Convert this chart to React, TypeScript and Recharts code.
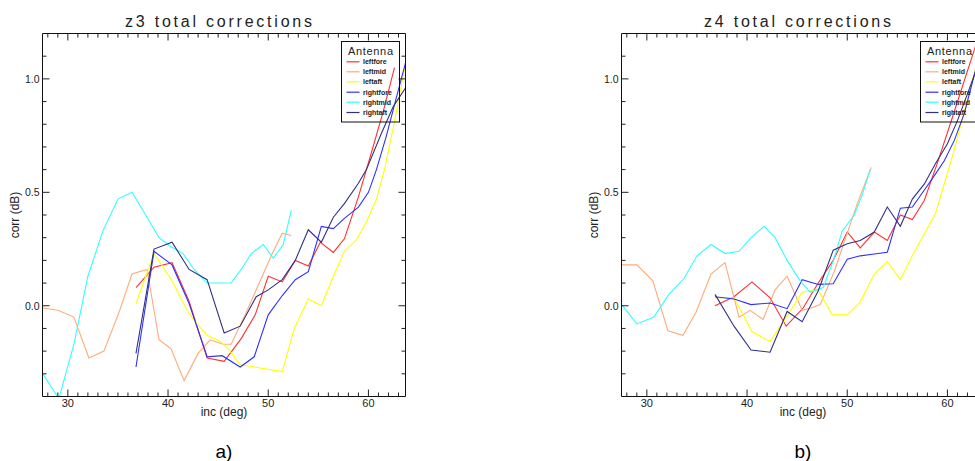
import React from 'react';
import { LineChart, Line, XAxis, YAxis, Legend } from 'recharts';

// ---------- series meta ----------
const SERIES_NAMES = ['leftfore', 'leftmid', 'leftaft', 'rightfore', 'rightmid', 'rightaft'];
const SERIES_COLORS = ['#ff3030', '#ffaa78', '#ffff00', '#3030ff', '#30ffff', '#303088'];

// ---------- z3 data: [inc (deg), corr (dB)] ----------
const z3_leftfore = [[36.8,0.08],[38.6,0.17],[40.4,0.19],[42.1,0.02],[43.9,-0.23],[45.6,-0.245],[47.3,-0.145],[48.7,-0.04],[50.0,0.13],[51.4,0.105],[52.7,0.20],[54.0,0.175],[55.2,0.28],[56.5,0.235],[57.6,0.295],[59.0,0.48],[60.2,0.66],[61.5,0.86],[62.6,1.05]];
const z3_leftmid = [[27.5,-0.01],[29.0,-0.02],[30.6,-0.05],[32.1,-0.23],[33.6,-0.20],[35.1,-0.03],[36.4,0.14],[37.9,0.16],[39.1,-0.15],[40.3,-0.19],[41.6,-0.33],[43.0,-0.21],[44.2,-0.15],[45.5,-0.17],[46.3,-0.17],[47.7,-0.04],[49.1,0.10],[50.4,0.23],[51.4,0.32],[52.3,0.31]];
const z3_leftaft = [[36.8,0.01],[38.6,0.23],[40.4,0.11],[41.9,-0.02],[42.7,-0.07],[43.9,-0.13],[45.3,-0.16],[46.2,-0.20],[47.2,-0.26],[51.4,-0.29],[52.6,-0.10],[54.0,0.03],[55.3,0.00],[56.5,0.13],[57.6,0.24],[58.8,0.29],[59.8,0.37],[60.8,0.47],[61.6,0.60],[62.5,0.79],[63.4,1.0],[63.7,1.06]];
const z3_rightfore = [[36.8,-0.27],[38.6,0.24],[40.4,0.18],[42.1,0.01],[43.9,-0.225],[45.4,-0.22],[47.2,-0.27],[48.6,-0.225],[50.0,-0.04],[51.4,0.045],[52.7,0.115],[54.0,0.15],[55.3,0.35],[56.5,0.34],[57.6,0.385],[59.0,0.435],[60.0,0.50],[60.8,0.60],[61.8,0.75],[62.8,0.92],[63.7,1.07]];
const z3_rightmid = [[27.5,-0.30],[29.1,-0.41],[30.6,-0.17],[32.0,0.13],[33.5,0.33],[35.0,0.47],[36.4,0.50],[37.9,0.39],[39.1,0.30],[40.3,0.26],[41.5,0.23],[42.6,0.16],[43.9,0.10],[46.3,0.10],[47.3,0.16],[48.3,0.23],[49.5,0.27],[50.5,0.21],[51.5,0.27],[52.3,0.42]];
const z3_rightaft = [[36.8,-0.21],[38.6,0.25],[40.4,0.28],[42.1,0.16],[43.9,0.115],[45.6,-0.12],[47.2,-0.09],[48.8,0.04],[50.0,0.07],[51.4,0.115],[52.7,0.20],[54.0,0.335],[55.3,0.28],[56.5,0.39],[57.6,0.45],[59.0,0.54],[59.8,0.60],[61.3,0.76],[62.5,0.88],[63.7,0.96]];

// ---------- z4 data ----------
const z4_leftfore = [[36.8,0.0],[38.7,0.04],[40.5,0.105],[42.3,0.035],[43.9,-0.09],[45.6,-0.01],[47.1,0.10],[48.6,0.20],[50.0,0.325],[51.3,0.255],[52.7,0.325],[54.0,0.288],[55.3,0.40],[56.5,0.38],[57.7,0.465],[59.0,0.63],[60.2,0.79],[61.3,0.94],[62.7,1.13],[63.3,1.22]];
const z4_leftmid = [[27.4,0.18],[29.0,0.18],[30.6,0.11],[32.1,-0.11],[33.6,-0.13],[34.9,-0.03],[36.4,0.14],[37.8,0.19],[39.2,-0.05],[40.3,-0.02],[41.6,-0.06],[42.8,0.07],[44.0,0.13],[45.5,-0.02],[46.4,-0.01],[47.3,0.005],[48.7,0.15],[50.0,0.32],[51.0,0.45],[52.4,0.61]];
const z4_leftaft = [[36.8,0.035],[38.7,0.035],[40.5,-0.115],[42.3,-0.157],[43.8,-0.06],[45.5,0.06],[47.1,0.07],[48.5,-0.04],[50.0,-0.04],[51.3,0.016],[52.7,0.14],[54.0,0.195],[55.3,0.115],[56.6,0.23],[57.8,0.325],[58.8,0.405],[59.7,0.54],[60.7,0.69],[61.7,0.86],[62.7,1.03],[63.7,1.2]];
const z4_rightfore = [[36.8,0.04],[38.7,0.03],[40.4,0.005],[42.3,0.012],[44.0,-0.013],[45.5,0.115],[47.1,0.094],[48.6,0.097],[50.0,0.205],[51.3,0.22],[52.7,0.228],[54.0,0.236],[55.3,0.43],[56.5,0.435],[57.7,0.51],[58.8,0.58],[59.7,0.64],[60.7,0.73],[61.7,0.85],[62.7,1.02],[63.7,1.2]];
const z4_rightmid = [[27.4,0.01],[29.0,-0.08],[30.7,-0.05],[32.2,0.05],[33.7,0.12],[35.0,0.22],[36.4,0.27],[37.8,0.23],[39.2,0.24],[40.4,0.30],[41.7,0.35],[42.8,0.30],[44.0,0.20],[45.3,0.11],[46.3,0.06],[47.6,0.08],[48.7,0.21],[49.5,0.33],[50.7,0.40],[51.5,0.49],[52.3,0.60]];
const z4_rightaft = [[36.8,0.05],[38.7,-0.09],[40.4,-0.195],[42.3,-0.205],[44.0,-0.025],[45.5,-0.07],[47.1,0.065],[48.6,0.245],[50.0,0.273],[51.3,0.288],[52.7,0.325],[54.0,0.435],[55.3,0.35],[56.5,0.47],[57.7,0.537],[58.8,0.626],[60.0,0.714],[61.0,0.816],[62.0,0.934],[62.8,1.03],[63.7,1.13]];

// ---------- axes ----------
const X_DOMAIN = [27.47, 63.7];
const Y_DOMAIN = [-0.4, 1.2];
const X_TICKS = [28,29,30,31,32,33,34,35,36,37,38,39,40,41,42,43,44,45,46,47,48,49,50,51,52,53,54,55,56,57,58,59,60,61,62,63];
const X_LABELS = [30, 40, 50, 60];
const Y_TICKS = [-0.3,-0.2,-0.1,0.0,0.1,0.2,0.3,0.4,0.5,0.6,0.7,0.8,0.9,1.0,1.1];
const Y_LABELS = ['0.0', '0.5', '1.0'];
const LEGEND_TITLE = 'Antenna';

const PANELS = [
  { title: 'z3 total corrections', tag: 'a)', series: [z3_leftfore, z3_leftmid, z3_leftaft, z3_rightfore, z3_rightmid, z3_rightaft] },
  { title: 'z4 total corrections', tag: 'b)', series: [z4_leftfore, z4_leftmid, z4_leftaft, z4_rightfore, z4_rightmid, z4_rightaft] },
];

const FONT = '"Liberation Sans", Arial, sans-serif';
const INK = '#222';

const isMajorX = (v: number) => X_LABELS.some((m) => Math.abs(m - v) < 1e-6);
const yLabel = (v: number) => {
  const s = v.toFixed(1);
  return Y_LABELS.includes(s) ? s : null;
};

const BottomTick = (p: any) => {
  const { x, y, payload } = p;
  const major = isMajorX(payload.value);
  return (
    <g>
      <line x1={x} x2={x} y1={y} y2={y - (major ? 7 : 4)} stroke={INK} strokeWidth={1} />
      {major && (
        <text x={x} y={y + 10.5} textAnchor="middle" fontSize={11} fill={INK} fontFamily={FONT}>
          {payload.value}
        </text>
      )}
    </g>
  );
};
const TopTick = (p: any) => {
  const { x, y, payload } = p;
  const major = isMajorX(payload.value);
  return <line x1={x} x2={x} y1={y} y2={y + (major ? 7 : 4)} stroke={INK} strokeWidth={1} />;
};
const LeftTick = (p: any) => {
  const { x, y, payload } = p;
  const lab = yLabel(payload.value);
  return (
    <g>
      <line x1={x} x2={x + (lab ? 7 : 4)} y1={y} y2={y} stroke={INK} strokeWidth={1} />
      {lab && (
        <text x={x - 3} y={y} dy="0.36em" textAnchor="end" fontSize={10.5} fill={INK} fontFamily={FONT}>
          {lab}
        </text>
      )}
    </g>
  );
};
const RightTick = (p: any) => {
  const { x, y, payload } = p;
  const lab = yLabel(payload.value);
  return <line x1={x} x2={x - (lab ? 7 : 4)} y1={y} y2={y} stroke={INK} strokeWidth={1} />;
};

const LegendBox = () => {
  const rows = [20.8, 30.8, 40.8, 51.2, 61.2, 71.5];
  return (
    <svg width={59} height={82} style={{ overflow: 'visible', display: 'block' }}>
      <rect x={0.5} y={0.5} width={58} height={80.5} fill="none" stroke="#111" strokeWidth={1} />
      <text x={7} y={14} fontSize={11} fill={INK} fontFamily={FONT} textLength={45} lengthAdjust="spacing">
        {LEGEND_TITLE}
      </text>
      {SERIES_NAMES.map((name, i) => (
        <g key={name}>
          <line x1={5.5} x2={18.5} y1={rows[i]} y2={rows[i]} stroke={SERIES_COLORS[i]} strokeWidth={1.2} />
          <text x={22} y={rows[i]} dy="0.33em" fontSize={7} fontWeight="bold" fill={INK} fontFamily={FONT}>
            {name}
          </text>
        </g>
      ))}
    </svg>
  );
};

const PLOT_W = 363;
const CHART_W = 420;

function Panel({ panel, left, plotLeft }: { panel: any; left: number; plotLeft: number }) {
  // axes take 1px each (an axis of size 0 is not drawn), margins compensate
  const margin = { top: 32.5, bottom: 461 - 396.5 - 1, left: plotLeft - 1, right: CHART_W - plotLeft - PLOT_W - 1 };
  return (
    <div style={{ position: 'absolute', left, top: 0 }}>
      <LineChart width={CHART_W} height={461} margin={margin}>
        <XAxis xAxisId="b" type="number" dataKey="inc" domain={X_DOMAIN} allowDataOverflow ticks={X_TICKS} interval={0}
          height={1} tickSize={0} tickMargin={0} tickLine={false} tick={<BottomTick />} axisLine={{ stroke: '#111' }} />
        <XAxis xAxisId="t" orientation="top" type="number" dataKey="inc" domain={X_DOMAIN} allowDataOverflow ticks={X_TICKS} interval={0}
          height={1} tickSize={0} tickMargin={0} tickLine={false} tick={<TopTick />} axisLine={{ stroke: '#111' }} />
        <YAxis yAxisId="l" type="number" domain={Y_DOMAIN} allowDataOverflow ticks={Y_TICKS} interval={0}
          width={1} tickSize={0} tickMargin={0} tickLine={false} tick={<LeftTick />} axisLine={{ stroke: '#111' }} />
        <YAxis yAxisId="r" orientation="right" type="number" domain={Y_DOMAIN} allowDataOverflow ticks={Y_TICKS} interval={0}
          width={1} tickSize={0} tickMargin={0} tickLine={false} tick={<RightTick />} axisLine={{ stroke: '#111' }} />
        {panel.series.map((pts: number[][], i: number) => (
          <Line
            key={SERIES_NAMES[i]}
            xAxisId="b"
            yAxisId="l"
            name={SERIES_NAMES[i]}
            data={pts.map(([inc, corr]) => ({ inc, corr }))}
            dataKey="corr"
            stroke={SERIES_COLORS[i]}
            strokeWidth={1.1}
            dot={false}
            activeDot={false}
            isAnimationActive={false}
          />
        ))}
        <Legend
          layout="vertical"
          align="center"
          verticalAlign="middle"
          content={<LegendBox />}
          wrapperStyle={{ left: plotLeft + 298.5, top: 41, width: 59, height: 82 }}
        />
      </LineChart>
    </div>
  );
}

export default function App() {
  const lefts = [0, 580];
  const plotLefts = [42.5, 41.5];
  return (
    <div style={{ position: 'absolute', left: 0, top: 0, width: 975, height: 461, overflow: 'hidden', background: '#fff' }}>
      {PANELS.map((p, i) => (
        <Panel key={i} panel={p} left={lefts[i]} plotLeft={plotLefts[i]} />
      ))}
      <svg width={975} height={461} style={{ position: 'absolute', left: 0, top: 0, pointerEvents: 'none' }}>
        {PANELS.map((p, i) => {
          const cx = lefts[i] + plotLefts[i] + PLOT_W / 2;
          return (
            <g key={i} fontFamily={FONT} fill={INK}>
              <text x={cx - 5.5 - 93.5} y={27} fontSize={16} textLength={187} lengthAdjust="spacing">
                {p.title}
              </text>
              <text x={cx} y={416} fontSize={12} textAnchor="middle">inc (deg)</text>
              <text transform={`translate(${lefts[i] + plotLefts[i] - 23.5},215) rotate(-90)`} fontSize={12} textAnchor="middle">
                corr (dB)
              </text>
              <text x={cx} y={458} fontSize={19} textAnchor="middle" fill="#000">
                {p.tag}
              </text>
            </g>
          );
        })}
      </svg>
    </div>
  );
}
